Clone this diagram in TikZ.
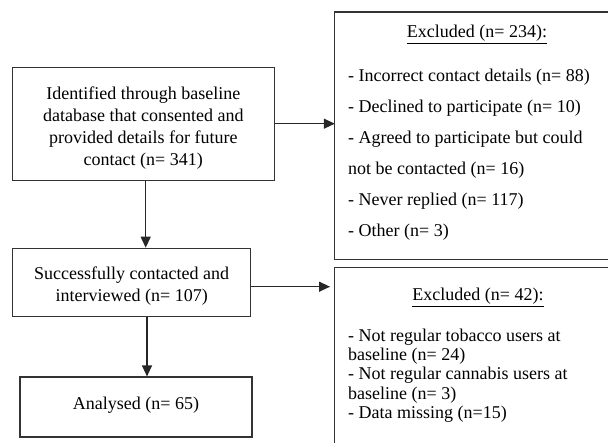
\documentclass[tikz,border=0pt]{standalone}
\usepackage{fontspec}
\setmainfont{Liberation Serif}
\usetikzlibrary{arrows.meta,positioning,calc}
\tikzset{>={Triangle[length=11pt,width=10pt]}}

\begin{document}
\begin{tikzpicture}[x=1pt,y=-1pt,
	every node/.style={font=\fontsize{18}{22}\selectfont},
	box/.style={draw=black!80,line width=1.2pt,inner sep=0pt},
	frame/.style={draw=black!80,line width=1.2pt},
	txt/.style={align=center,inner sep=0pt},
	flow/.style={->,draw=black!85,line width=1.3pt}]
		\useasboundingbox (0,0) rectangle (608,443);
		% main column
		\node[box,minimum width=262pt,minimum height=113pt] at (143.3,123.7) (ident) {};
		\node[txt] at (143.3,128.5) (identtxt) {Identified through baseline\\database that consented and\\provided details for future\\contact (n= 341)};
		\node[box,minimum width=238pt,minimum height=68pt] at (131.7,282.3) (contact) {};
		\node[txt] at (131.7,286) (contacttxt) {Successfully contacted and\\interviewed (n= 107)};
		\node[box,minimum width=232pt,minimum height=60pt] at (136,407) (analysed) {};
		\node[txt] at (136,404.7) (analysedtxt) {Analysed (n= 65)};
		
		% exclusion boxes, open on the right (cut off)
		\node[inner sep=0pt,minimum width=273pt,minimum height=247pt] at (471.5,135.8) (excl1) {};
		\node[inner sep=0pt,minimum width=273pt,minimum height=192pt] at (471.5,364) (excl2) {};
		\draw[frame] (excl1.north east) -- (excl1.north west) -- (excl1.south west) -- (excl1.south east);
		\draw[frame] (excl2.north east) -- (excl2.north west) -- (excl2.south west);
		
		\node[anchor=base] at (477,37.5) (head1) {\underline{Excluded (n= 234):}};
		\node[anchor=north west,inner sep=0pt,align=left,font=\fontsize{18}{31}\selectfont] at (348,68.5) (list1) {- Incorrect contact details (n= 88)\\- Declined to participate (n= 10)\\- Agreed to participate but could\\not be contacted (n= 16)\\- Never replied (n= 117)\\- Other (n= 3)};
		\node[anchor=base] at (478,301) (head2) {\underline{Excluded (n= 42):}};
		\node[anchor=north west,inner sep=0pt,align=left,font=\fontsize{18}{19.4}\selectfont] at (348,328.5) (list2) {- Not regular tobacco users at\\baseline (n= 24)\\- Not regular cannabis users at\\baseline (n= 3)\\- Data missing (n=15)};
		
		% arrows
		\coordinate (tip2) at (330,286.7);
		\draw[flow] (ident.east) -- (ident.east -| excl1.west);
		\draw[flow] (contact.east |- tip2) -- (tip2);
		\draw[flow] ([xshift=2.4pt]ident.south) -- ([xshift=2.4pt]ident.south |- contact.north);
		\draw[flow] ([xshift=11pt]analysed.north |- contact.south) -- ([xshift=11pt]analysed.north);
\end{tikzpicture}
\end{document}
